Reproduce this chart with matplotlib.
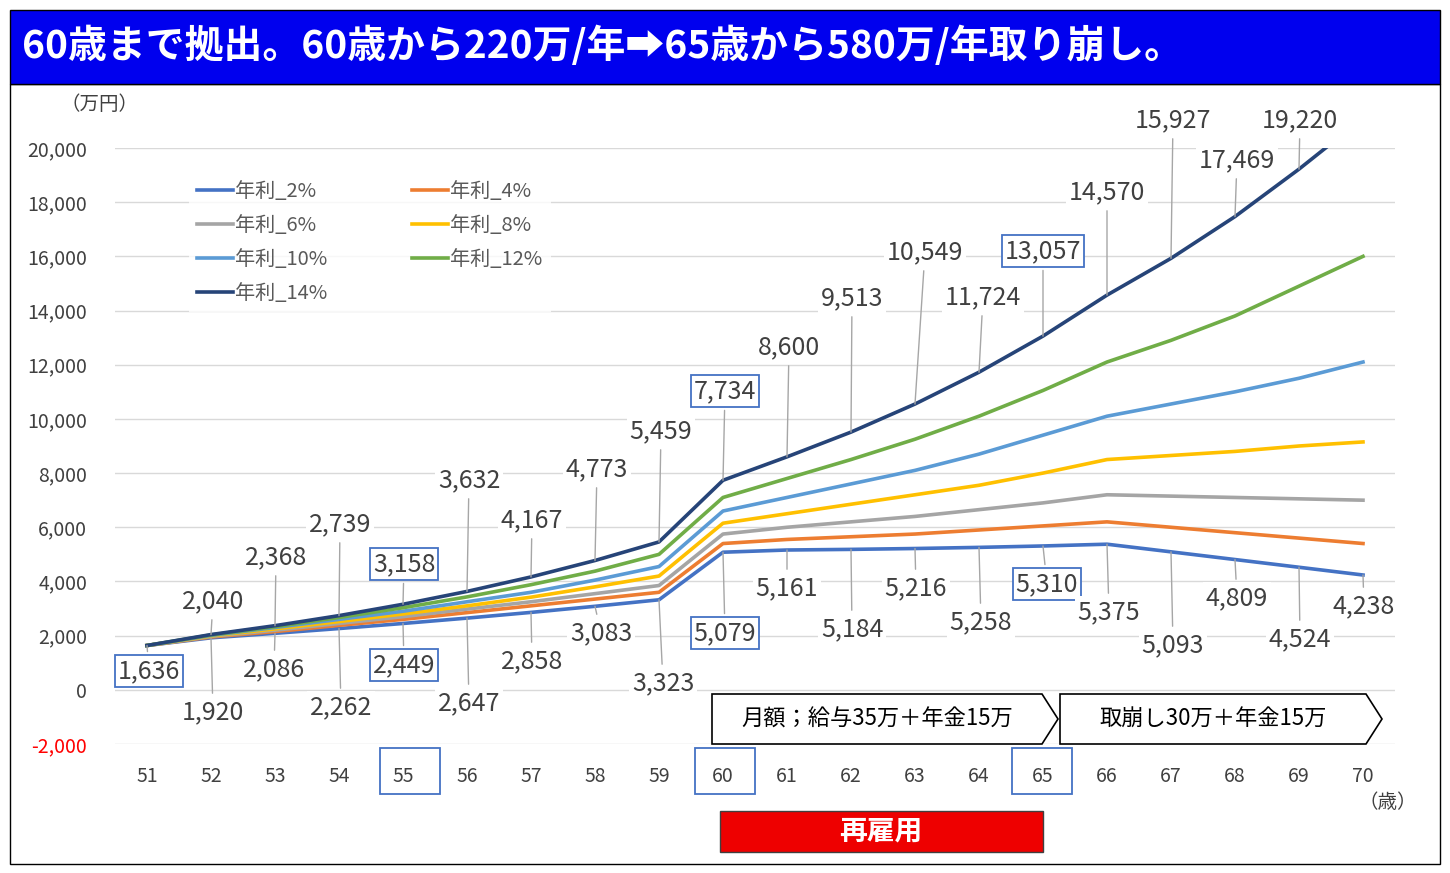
import numpy as np
import matplotlib
matplotlib.use('Agg')
import matplotlib.pyplot as plt
from matplotlib.patches import Rectangle, Polygon

plt.rcParams['font.family'] = ['Noto Sans CJK JP', 'DejaVu Sans']

# データ（万円）
ages = list(range(51, 71))
r2 = [1636, 1920, 2086, 2262, 2449, 2647, 2858, 3083, 3323, 5079, 5161, 5184, 5216, 5258, 5310, 5375, 5093, 4809, 4524, 4238]
r4 = [1636, 1950, 2150, 2380, 2600, 2850, 3100, 3350, 3600, 5400, 5550, 5650, 5750, 5900, 6050, 6200, 6000, 5800, 5600, 5400]
r6 = [1636, 1970, 2200, 2450, 2700, 2980, 3250, 3550, 3850, 5750, 6000, 6200, 6400, 6650, 6900, 7200, 7150, 7100, 7050, 7000]
r8 = [1636, 1990, 2250, 2520, 2800, 3100, 3420, 3800, 4200, 6150, 6500, 6850, 7200, 7550, 8000, 8500, 8650, 8800, 9000, 9150]
r10 = [1636, 2010, 2300, 2600, 2900, 3250, 3600, 4050, 4550, 6600, 7100, 7600, 8100, 8700, 9400, 10100, 10550, 11000, 11500, 12100]
r12 = [1636, 2025, 2330, 2670, 3030, 3430, 3880, 4380, 5000, 7100, 7800, 8500, 9250, 10100, 11050, 12100, 12900, 13800, 14900, 16000]
r14 = [1636, 2040, 2368, 2739, 3158, 3632, 4167, 4773, 5459, 7734, 8600, 9513, 10549, 11724, 13057, 14570, 15927, 17469, 19220, 21100]

series = [('年利_2%', r2, '#4472C4'), ('年利_4%', r4, '#ED7D31'), ('年利_6%', r6, '#A5A5A5'),
          ('年利_8%', r8, '#FFC000'), ('年利_10%', r10, '#5B9BD5'), ('年利_12%', r12, '#70AD47'),
          ('年利_14%', r14, '#264478')]

# ラベル位置（ピクセル）
pos14 = {52: (213, 601), 53: (276, 557), 54: (340, 524), 55: (404, 564), 56: (469, 480), 57: (532, 520),
         58: (597, 469), 59: (661, 431), 60: (725, 391), 61: (789, 347), 62: (852, 298), 63: (925, 252),
         64: (983, 297), 65: (1043, 251), 66: (1107, 192), 67: (1173, 120), 68: (1237, 160), 69: (1300, 120)}
pos2 = {51: (149, 671), 52: (213, 712), 53: (274, 669), 54: (341, 707), 55: (404, 665), 56: (469, 703),
        57: (532, 661), 58: (601, 633), 59: (663, 683), 60: (725, 633), 61: (787, 588), 62: (852, 629),
        63: (916, 588), 64: (981, 622), 65: (1047, 584), 66: (1109, 612), 67: (1173, 645), 68: (1237, 598),
        69: (1300, 639), 70: (1364, 606)}
boxed = [55, 60, 65]

W, H = 1450, 873
def P(x, y):
    return (x / W, 1 - y / H)

fig = plt.figure(figsize=(14.5, 8.73), dpi=100)
ax = fig.add_axes([115 / W, 1 - 744 / H, 1280 / W, 596 / H])
lines = []
for name, vals, c in series:
    lines += ax.plot(ages, vals, color=c, lw=2.6, label=name)
ax.set_xlim(50.5, 70.5)
ax.set_ylim(-2000, 20000)
ax.set_yticks(range(-2000, 20001, 2000))
ax.set_yticklabels([f'{v:,}' for v in range(-2000, 20001, 2000)], fontsize=14, color='#404040')
ax.get_yticklabels()[0].set_color('red')
ax.set_xticks(ages)
ax.set_xticklabels([str(a) for a in ages], fontsize=14, color='#404040')
ax.tick_params(length=0, axis='x', pad=16)
ax.tick_params(length=0, axis='y', pad=20)
ax.grid(axis='y', color='#D9D9D9', lw=1)
for s in ax.spines.values():
    s.set_visible(False)

# 行順に並べる
order = [0, 2, 4, 6, 1, 3, 5]
leg = ax.legend([lines[i] for i in order], [series[i][0] for i in order], ncol=2, loc='upper left',
                bbox_to_anchor=(0.05, 0.975), frameon=True, fancybox=False,
                edgecolor='none', fontsize=14.5, handlelength=1.8, columnspacing=4.2, labelspacing=0.65,
                handletextpad=0.1)
for t in leg.get_texts():
    t.set_color('#595959')

def label(age, val, xy):
    a = ax.annotate(f'{val:,}', xy=(age, val), xytext=(xy[0], H - xy[1]), textcoords='figure pixels',
                    ha='center', va='center', fontsize=18, color='#404040',
                    arrowprops=dict(arrowstyle='-', color='#A6A6A6', lw=1, shrinkA=2, shrinkB=0),
                    bbox=dict(boxstyle='square,pad=0.12', fc='white',
                              ec='#4472C4' if age in boxed else 'none', lw=1.3), zorder=5)
    return a

for age, xy in pos14.items():
    label(age, r14[ages.index(age)], xy)
for age, xy in pos2.items():
    t = label(age, r2[ages.index(age)], xy)
    if age == 51:
        t.get_bbox_patch().set_edgecolor('#4472C4')

# 装飾
fig.add_artist(Rectangle(P(10, 864), 1430 / W, 780 / H, transform=fig.transFigure, fill=False, ec='black', lw=1))
fig.add_artist(Rectangle(P(10, 84), 1430 / W, 74 / H, transform=fig.transFigure, fc='#0000EE', ec='black', lw=1))
fig.text(*P(22, 46), '60歳まで拠出。60歳から220万/年➡65歳から580万/年取り崩し。', color='white',
         fontsize=28, fontweight='bold', ha='left', va='center')
fig.text(*P(100, 105), '（万円）', fontsize=14, color='#404040', ha='center', va='center')
fig.text(*P(1388, 803), '（歳）', fontsize=14, color='#404040', ha='center', va='center')

for x0 in (380, 695, 1012):
    fig.add_artist(Rectangle(P(x0, 794), 60 / W, 46 / H, transform=fig.transFigure, fill=False,
                             ec='#4472C4', lw=1.3))

def arrow_box(x0, x1, txt):
    pts = [P(x0, 694), P(x1 - 16, 694), P(x1, 719), P(x1 - 16, 744), P(x0, 744)]
    fig.add_artist(Polygon(pts, closed=True, transform=fig.transFigure, fc='white', ec='black', lw=1.2))
    fig.text(*P((x0 + x1 - 16) / 2, 719), txt, fontsize=16, ha='center', va='center')

arrow_box(712, 1058, '月額；給与35万＋年金15万')
arrow_box(1060, 1382, '取崩し30万＋年金15万')

fig.add_artist(Rectangle(P(720, 852), 323 / W, 41 / H, transform=fig.transFigure, fc='#EE0000',
                         ec='#404040', lw=1))
fig.text(*P(881, 831), '再雇用', color='white', fontsize=20, fontweight='bold', ha='center', va='center')

fig.savefig('out.png', dpi=100)
